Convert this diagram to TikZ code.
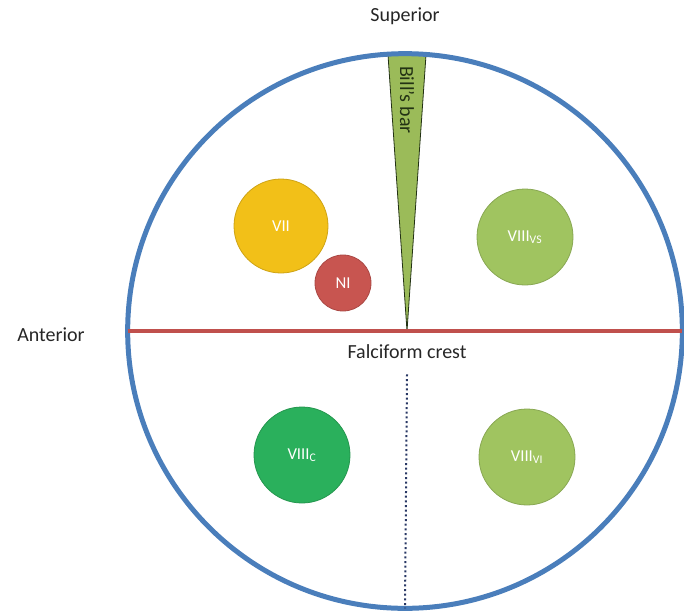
\documentclass[tikz,border=0pt]{standalone}
\usepackage{fontspec}
\setmainfont{Carlito}
\definecolor{ringblue}{RGB}{74,126,187}
\definecolor{crestred}{RGB}{192,80,77}
\definecolor{barolive}{RGB}{155,187,89}
\definecolor{bardark}{RGB}{35,50,20}
\definecolor{facialyellow}{RGB}{242,192,24}
\definecolor{interred}{RGB}{200,85,80}
\definecolor{cochgreen}{RGB}{42,176,92}
\definecolor{vestgreen}{RGB}{160,196,96}
\definecolor{dotnavy}{RGB}{40,55,100}
\tikzset{
	nerve/.style 2 args={circle, inner sep=0pt, outer sep=0pt, minimum size=#1,
		fill=#2, draw=#2!85!black, line width=0.6pt, text=white,
		font=\fontsize{12.5}{13}\selectfont},
	side/.style={font=\fontsize{15}{16}\selectfont, text=black!85}
}
\begin{document}
\begin{tikzpicture}[x=0.75pt,y=-0.75pt]
		\useasboundingbox (0,0) rectangle (684,614);
		% Bill's bar
		\filldraw[fill=barolive, draw=bardark, line width=0.6pt] (388,55) -- (426,55) -- (407,331) -- cycle;
		\node[rotate=-90, text=bardark, font=\fontsize{15}{16}\selectfont] (bill) at (407,100) {Bill's bar};
		% meatus outline
		\node[circle, draw=ringblue, line width=3.75pt, inner sep=0pt, outer sep=0pt, minimum size=416pt] (ring) at (405,331) {};
		\draw[crestred, line width=3.2pt] (ring.west) -- (ring.east);
		\node[side] (crest) at (407,352) {Falciform crest};
		\draw[dotnavy, line width=1.5pt, dotted] ([yshift=-8pt]crest.south) -- (ring.south);
		\node[side] (sup) at (405,16) {Superior};
		\node[side] (ant) at (51,335) {Anterior};
		% nerves
		\node[nerve={70.5pt}{facialyellow}] (vii) at (281,226) {VII};
		\node[nerve={42pt}{interred}] (ni) at (343,283) {NI};
		\node[nerve={72pt}{vestgreen}] (vs) at (525,237) {VIII\textsubscript{VS}};
		\node[nerve={72pt}{cochgreen}] (coch) at (302,455) {VIII\textsubscript{C}};
		\node[nerve={72pt}{vestgreen}] (vi) at (527,457) {VIII\textsubscript{VI}};
\end{tikzpicture}
\end{document}
